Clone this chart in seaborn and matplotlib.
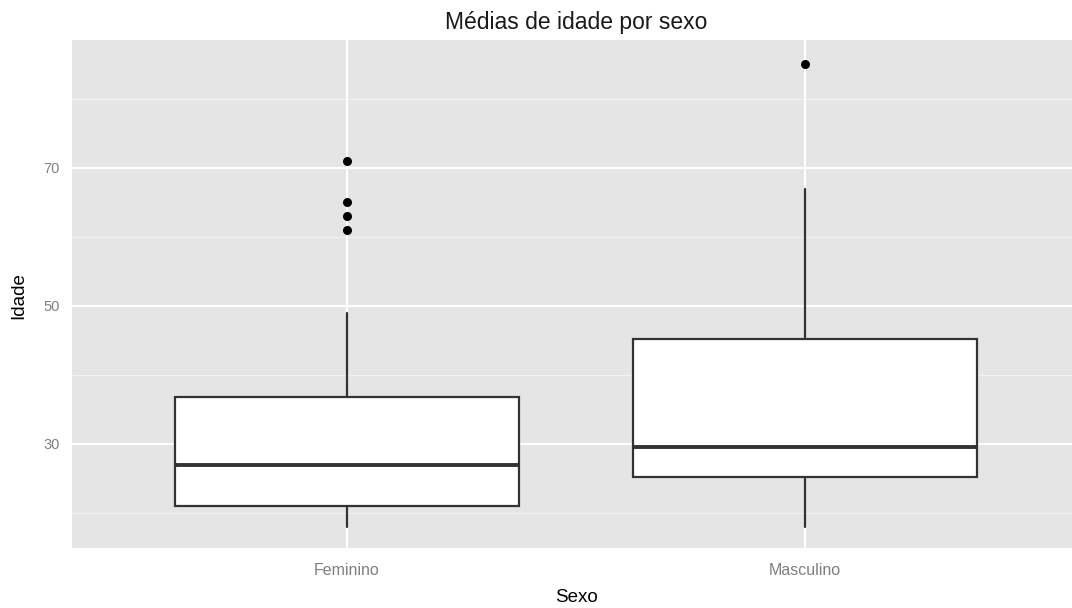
import matplotlib
matplotlib.use("Agg")
import matplotlib.pyplot as plt
import seaborn as sns
import pandas as pd

# Summary values
sexo = ["Feminino", "Masculino"]
whisker_low = [18, 18]
q1 = [21, 25.25]
mediana = [27, 29.5]
q3 = [36.75, 45.25]
whisker_high = [49, 67]
outliers_feminino = [61, 63, 65, 71]
outliers_masculino = [85]

y_ticks = [30, 50, 70]
y_minor = [20, 40, 60, 80]

sns.set_theme(style="darkgrid")
plt.rcParams["font.family"] = ["Liberation Sans", "DejaVu Sans"]

fig = plt.figure(figsize=(10.72, 6.08), dpi=100)
ax = fig.add_axes([72 / 1072, 60.5 / 608, 1000 / 1072, 507.5 / 608])
ax.set_facecolor("#E5E5E5")

stats = []
for i, nome in enumerate(sexo):
    stats.append({
        "label": nome,
        "whislo": whisker_low[i],
        "q1": q1[i],
        "med": mediana[i],
        "q3": q3[i],
        "whishi": whisker_high[i],
        "fliers": [],
    })

box_line = "#333333"
ax.bxp(
    stats,
    positions=[0, 1],
    widths=0.75,
    showfliers=False,
    showcaps=False,
    patch_artist=True,
    boxprops=dict(facecolor="white", edgecolor=box_line, linewidth=1.6),
    medianprops=dict(color=box_line, linewidth=2.8, solid_capstyle="butt"),
    whiskerprops=dict(color=box_line, linewidth=1.6),
    zorder=3,
)

# outliers drawn with seaborn on the same categorical axis
fliers = pd.DataFrame({
    "Sexo": ["Feminino"] * len(outliers_feminino) + ["Masculino"] * len(outliers_masculino),
    "Idade": outliers_feminino + outliers_masculino,
})
sns.stripplot(data=fliers, x="Sexo", y="Idade", order=sexo, jitter=False,
              color="black", size=6.5, linewidth=0, ax=ax, zorder=4)

# grid like ggplot's old grey theme
ax.grid(False)
ax.set_axisbelow(True)
for v in y_minor:
    ax.axhline(v, color="#F2F2F2", linewidth=0.9, zorder=0)
for v in y_ticks:
    ax.axhline(v, color="white", linewidth=1.5, zorder=1)
for p in [0, 1]:
    ax.axvline(p, color="white", linewidth=1.5, zorder=1)

ax.set_xlim(-0.6, -0.6 + 1000 / 458)
ax.set_ylim(15.0, 88.55)
ax.set_xticks([0, 1])
ax.set_xticklabels(sexo)
ax.set_yticks(y_ticks)
for s in ax.spines.values():
    s.set_visible(False)

ax.tick_params(axis="both", which="major", length=4, width=0.8, color="#7F7F7F",
               labelcolor="#7F7F7F", labelsize=10.5)
ax.tick_params(axis="x", pad=7, labelsize=11.5)
ax.tick_params(axis="y", pad=5)

ax.set_xlabel("")
ax.set_ylabel("")
fig.text(576 / 1072, 1 - 23 / 608, "Médias de idade por sexo", ha="center", va="center",
         fontsize=16.5, color="#1A1A1A")
fig.text(576 / 1072, 1 - 597 / 608, "Sexo", ha="center", va="center", fontsize=13.5, color="black")
fig.text(19 / 1072, 1 - 296 / 608, "Idade", ha="center", va="center", rotation=90,
         fontsize=13.5, color="black")

fig.savefig("out.png", dpi=100)
plt.close(fig)
